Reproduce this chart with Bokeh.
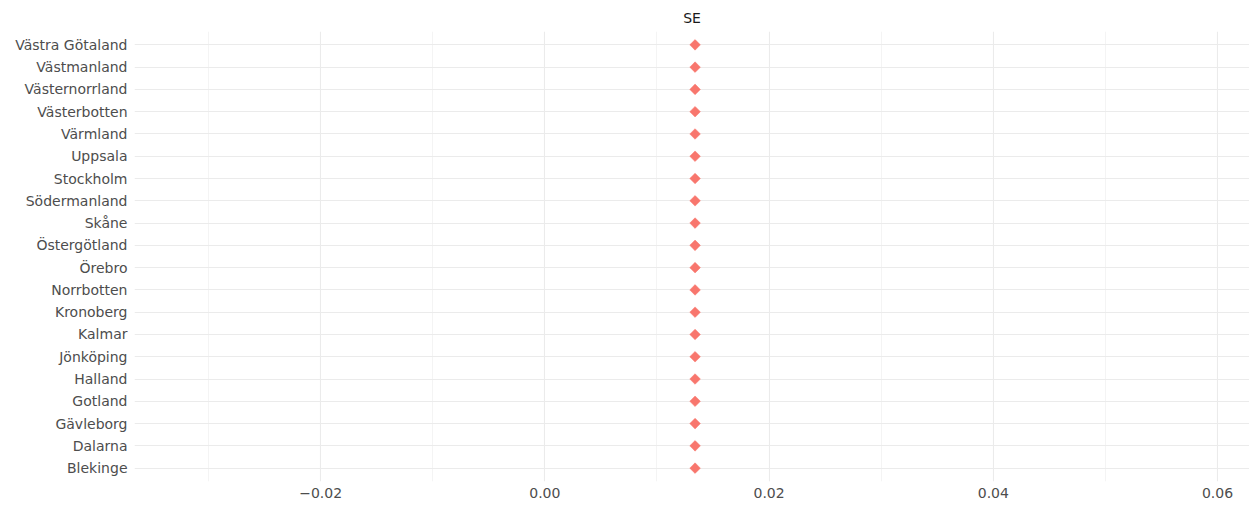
from bokeh.plotting import figure
from bokeh.models import FactorRange, Range1d, FixedTicker, ColumnDataSource
from bokeh.embed import file_html
from bokeh.resources import INLINE
import math

regions = ["Blekinge", "Dalarna", "Gävleborg", "Gotland", "Halland", "Jönköping",
           "Kalmar", "Kronoberg", "Norrbotten", "Örebro", "Östergötland", "Skåne",
           "Södermanland", "Stockholm", "Uppsala", "Värmland", "Västerbotten",
           "Västernorrland", "Västmanland", "Västra Götaland"]
values = [0.0134] * 20
x_ticks = [-0.02, 0.0, 0.02, 0.04, 0.06]
x_tick_labels = ["\u22120.02", "0.00", "0.02", "0.04", "0.06"]
x_minor = [-0.03, -0.01, 0.01, 0.03, 0.05]
panel_title = "SE"

FONT = "DejaVu Sans"
FSIZE = "14px"

src = ColumnDataSource(dict(region=regions, value=values))

p = figure(width=1249, height=504, output_backend="svg", toolbar_location=None,
           y_range=FactorRange(factors=regions, range_padding=0.1, range_padding_units="absolute"),
           x_range=Range1d(-0.0366, 0.06285),
           min_border_left=134, min_border_right=0, min_border_bottom=23, min_border_top=31)
p.outline_line_color = None
p.background_fill_color = "white"

p.title.text = panel_title
p.title.align = "center"
p.title.text_font = FONT
p.title.text_font_size = FSIZE
p.title.text_font_style = "normal"
p.title.text_color = "#1A1A1A"
p.title.text_line_height = 0.5
p.title.offset = 0
p.title.standoff = 12

p.scatter("value", "region", source=src, marker="square", size=7.5, angle=math.pi / 4,
          fill_color="#F8766D", line_color="#F8766D", line_width=0.5)

p.xaxis.ticker = FixedTicker(ticks=x_ticks, minor_ticks=x_minor)
p.xaxis.major_label_overrides = {t: l for t, l in zip(x_ticks, x_tick_labels)}
for ax in (p.xaxis[0], p.yaxis[0]):
    ax.axis_line_color = None
    ax.major_tick_line_color = None
    ax.minor_tick_line_color = None
    ax.major_tick_out = 0
    ax.major_tick_in = 0
    ax.minor_tick_out = 0
    ax.minor_tick_in = 0
    ax.major_label_text_font = FONT
    ax.major_label_text_font_size = FSIZE
    ax.major_label_text_color = "#4D4D4D"
p.xaxis.major_label_standoff = 6
p.yaxis.major_label_standoff = 7

p.xgrid.grid_line_color = "#EBEBEB"
p.xgrid.grid_line_width = 1.1
p.xgrid.minor_grid_line_color = "#EBEBEB"
p.xgrid.minor_grid_line_width = 0.55
p.ygrid.grid_line_color = "#EBEBEB"
p.ygrid.grid_line_width = 1.1

open("out.html", "w").write(file_html(p, INLINE))
